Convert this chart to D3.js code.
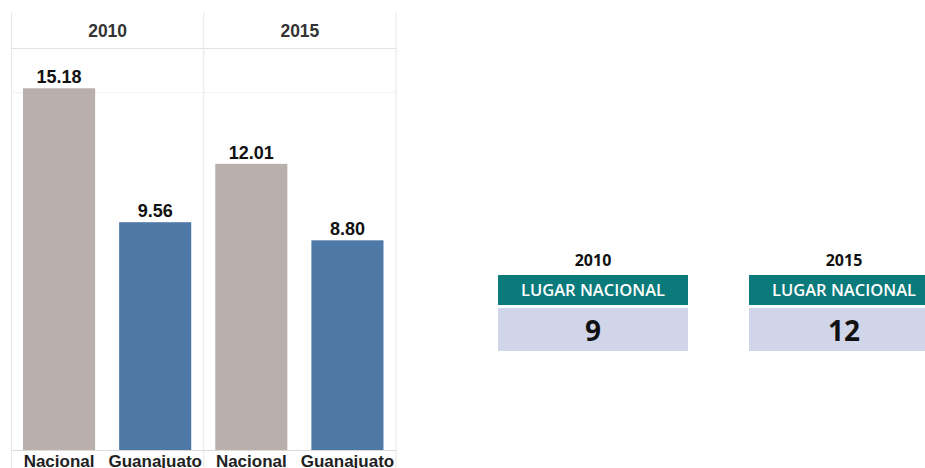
<!DOCTYPE html>
<html lang="es">
<head>
<meta charset="UTF-8">
<title>Nacional vs Guanajuato</title>
<script src="https://d3js.org/d3.v7.min.js"></script>
<style>
    body { margin: 0; background: #fff; }
    svg { display: block; }
    .hdr { font: bold 17.5px "Liberation Sans", Arial, sans-serif; fill: #333; }
    .val { font: bold 18px "Liberation Sans", Arial, sans-serif; fill: #111; }
    .cat { font: bold 17px "Liberation Sans", Arial, sans-serif; fill: #222; }
    .rk-title { font: bold 16px "Open Sans", sans-serif; fill: #111; }
    .rk-head { font: 600 16.5px "Open Sans", sans-serif; fill: #fff; }
    .rk-num { font: bold 28px "Open Sans", sans-serif; fill: #111; }
</style>
</head>
<body>
<script>
    var years = ["2010", "2015"];
    var categories = ["Nacional", "Guanajuato"];
    var nacional = [15.18, 12.01];
    var guanajuato = [9.56, 8.80];
    var ranks = [9, 12];
    var rankLabel = "LUGAR NACIONAL";

    var width = 925, height = 468;
    var colors = { "Nacional": "#b9b0ab", "Guanajuato": "#4e79a7" };

    var svg = d3.select("body").append("svg")
        .attr("width", width)
        .attr("height", height);

    // paneles por año
    var plotTop = 48.5, plotBottom = 450;
    var xYear = d3.scaleBand().domain(years).range([11.5, 396]);
    var xCat = d3.scaleBand().domain(categories)
        .range([0, xYear.bandwidth()])
        .paddingInner(0.25).paddingOuter(0.125);
    var y = d3.scaleLinear().domain([0, 16.85]).range([plotBottom, plotTop]);

    // grid a 15
    svg.append("line")
        .attr("x1", xYear.range()[0]).attr("x2", xYear.range()[1])
        .attr("y1", y(15)).attr("y2", y(15))
        .attr("stroke", "#f2f2f2");

    // linea del encabezado y base
    svg.append("line")
        .attr("x1", xYear.range()[0]).attr("x2", xYear.range()[1])
        .attr("y1", plotTop).attr("y2", plotTop)
        .attr("stroke", "#e3e3e3");
    svg.append("line")
        .attr("x1", xYear.range()[0]).attr("x2", xYear.range()[1])
        .attr("y1", plotBottom + 0.5).attr("y2", plotBottom + 0.5)
        .attr("stroke", "#dcdcdc");

    // divisores verticales
    svg.selectAll(".div")
        .data(years.concat(["end"]))
        .enter().append("line")
        .attr("x1", function(d) { return d === "end" ? xYear.range()[1] : xYear(d); })
        .attr("x2", function(d) { return d === "end" ? xYear.range()[1] : xYear(d); })
        .attr("y1", 12).attr("y2", height)
        .attr("stroke", "#e6e6e6");

    svg.selectAll(".hdr")
        .data(years)
        .enter().append("text")
        .attr("class", "hdr")
        .attr("x", function(d) { return xYear(d) + xYear.bandwidth() / 2; })
        .attr("y", 37)
        .attr("text-anchor", "middle")
        .text(function(d) { return d; });

    var rows = [];
    years.forEach(function(yr, i) {
        rows.push({ year: yr, cat: "Nacional", value: nacional[i] });
        rows.push({ year: yr, cat: "Guanajuato", value: guanajuato[i] });
    });

    var g = svg.selectAll(".bar")
        .data(rows)
        .enter().append("g")
        .attr("transform", function(d) { return "translate(" + (xYear(d.year) + xCat(d.cat) - 0.5) + ",0)"; });

    g.append("rect")
        .attr("x", 0)
        .attr("width", xCat.bandwidth())
        .attr("y", function(d) { return y(d.value); })
        .attr("height", function(d) { return y(0) - y(d.value); })
        .attr("fill", function(d) { return colors[d.cat]; });

    g.append("text")
        .attr("class", "val")
        .attr("x", xCat.bandwidth() / 2)
        .attr("y", function(d) { return y(d.value) - 5; })
        .attr("text-anchor", "middle")
        .text(function(d) { return d.value.toFixed(2); });

    g.append("text")
        .attr("class", "cat")
        .attr("x", xCat.bandwidth() / 2)
        .attr("y", 467)
        .attr("text-anchor", "middle")
        .text(function(d) { return d.cat; });

    // cuadros de lugar nacional
    var xRank = d3.scaleBand().domain(years).range([498, 1000]);
    var boxW = 190;

    var rk = svg.selectAll(".rank")
        .data(years)
        .enter().append("g")
        .attr("transform", function(d) { return "translate(" + xRank(d) + ",0)"; });

    rk.append("text")
        .attr("class", "rk-title")
        .attr("x", boxW / 2).attr("y", 266)
        .attr("text-anchor", "middle")
        .text(function(d) { return d; });

    rk.append("rect")
        .attr("x", 0).attr("y", 275)
        .attr("width", boxW).attr("height", 30)
        .attr("fill", "#0b7a7b");

    rk.append("text")
        .attr("class", "rk-head")
        .attr("x", boxW / 2).attr("y", 296)
        .attr("text-anchor", "middle")
        .text(rankLabel);

    rk.append("rect")
        .attr("x", 0).attr("y", 308)
        .attr("width", boxW).attr("height", 43)
        .attr("fill", "#d0d5e9");

    rk.append("text")
        .attr("class", "rk-num")
        .attr("x", boxW / 2).attr("y", 341)
        .attr("text-anchor", "middle")
        .text(function(d, i) { return ranks[i]; });
</script>
</body>
</html>
